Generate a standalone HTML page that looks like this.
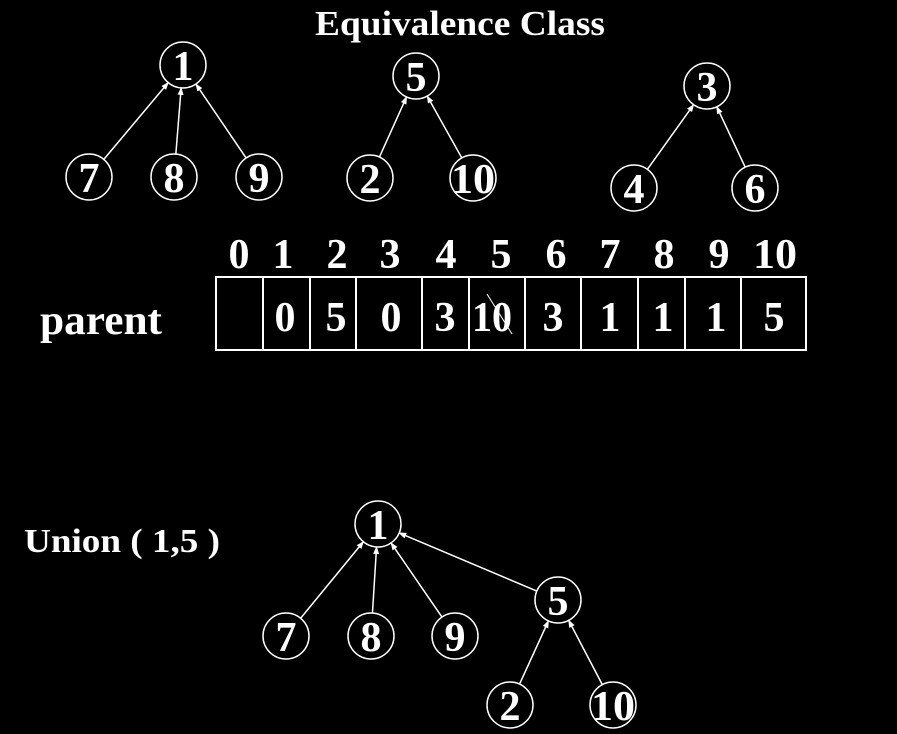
<!DOCTYPE html>
<html><head><meta charset="utf-8"><style>
html,body{margin:0;padding:0;background:#000;}
svg{display:block}
text{font-family:"Liberation Serif",serif;font-weight:bold;fill:#fff}
</style></head><body>
<svg id="s" width="897" height="734" viewBox="0 0 897 734" xmlns="http://www.w3.org/2000/svg">
<defs><marker id="a" markerWidth="8" markerHeight="8" refX="7" refY="4" orient="auto" markerUnits="userSpaceOnUse"><path d="M0,1 L8,4 L0,7 z" fill="#fff"/></marker></defs>
<text x="315" y="35" font-size="35" textLength="290" lengthAdjust="spacingAndGlyphs">Equivalence Class</text>
<text x="40" y="334" font-size="42" textLength="122" lengthAdjust="spacingAndGlyphs">parent</text>
<text x="24" y="552" font-size="34" textLength="196" lengthAdjust="spacingAndGlyphs">Union ( 1,5 )</text>
<g font-size="42" text-anchor="middle">
<text x="239" y="268">0</text><text x="283" y="268">1</text><text x="337" y="268">2</text><text x="390" y="268">3</text><text x="446" y="268">4</text><text x="501" y="268">5</text><text x="556" y="268">6</text><text x="610" y="268">7</text><text x="664" y="268">8</text><text x="719" y="268">9</text><text x="775" y="268" textLength="44" lengthAdjust="spacingAndGlyphs">10</text>
<text x="285" y="331">0</text><text x="336" y="331">5</text><text x="391" y="331">0</text><text x="445" y="331">3</text><text x="492" y="331" textLength="40" lengthAdjust="spacingAndGlyphs">10</text><text x="553" y="331">3</text><text x="610" y="331">1</text><text x="663" y="331">1</text><text x="716" y="331">1</text><text x="774" y="331">5</text>
</g>
<line x1="487" y1="294" x2="512" y2="334" stroke="#fff" stroke-width="1"/>
<g stroke="#fff" stroke-width="2" fill="none">
<rect x="216" y="277" width="590" height="73"/>
<line x1="263" y1="277" x2="263" y2="350"/><line x1="310" y1="277" x2="310" y2="350"/><line x1="356" y1="277" x2="356" y2="350"/><line x1="422" y1="277" x2="422" y2="350"/><line x1="469" y1="277" x2="469" y2="350"/><line x1="525" y1="277" x2="525" y2="350"/><line x1="581" y1="277" x2="581" y2="350"/><line x1="638" y1="277" x2="638" y2="350"/><line x1="685" y1="277" x2="685" y2="350"/><line x1="741" y1="277" x2="741" y2="350"/>
</g>
<g id="g"></g>
</svg>
<script>
var R=23,N={
a1:[183,65,'1'],a7:[89,177,'7'],a8:[174,177,'8'],a9:[259,177,'9'],
b5:[416,76,'5'],b2:[370,178,'2'],b10:[473,178,'10'],
c3:[707,86,'3'],c4:[634,188,'4'],c6:[755,188,'6'],
d1:[378,524,'1'],d5:[558,600,'5'],d7:[286,636,'7'],d8:[371,636,'8'],d9:[455,636,'9'],d2:[510,705,'2'],d10:[613,705,'10']};
var E=[['a7','a1'],['a8','a1'],['a9','a1'],['b2','b5'],['b10','b5'],['c4','c3'],['c6','c3'],['d7','d1'],['d8','d1'],['d9','d1'],['d5','d1'],['d2','d5'],['d10','d5']];
var g=document.getElementById('g'),h='';
E.forEach(function(e){var p=N[e[0]],q=N[e[1]],dx=q[0]-p[0],dy=q[1]-p[1],L=Math.sqrt(dx*dx+dy*dy),ux=dx/L,uy=dy/L;
h+='<line x1="'+(p[0]+ux*R)+'" y1="'+(p[1]+uy*R)+'" x2="'+(q[0]-ux*R)+'" y2="'+(q[1]-uy*R)+'" stroke="#fff" stroke-width="1.5" marker-end="url(#a)"/>';});
for(var k in N){var n=N[k];h+='<circle cx="'+n[0]+'" cy="'+n[1]+'" r="'+R+'" stroke="#fff" stroke-width="1.5" fill="none"/><text x="'+n[0]+'" y="'+(n[1]+15)+'" font-size="42" text-anchor="middle"'+(n[2].length>1?' textLength="44" lengthAdjust="spacingAndGlyphs"':'')+'>'+n[2]+'</text>';}
g.innerHTML=h;
</script>
</body></html>
